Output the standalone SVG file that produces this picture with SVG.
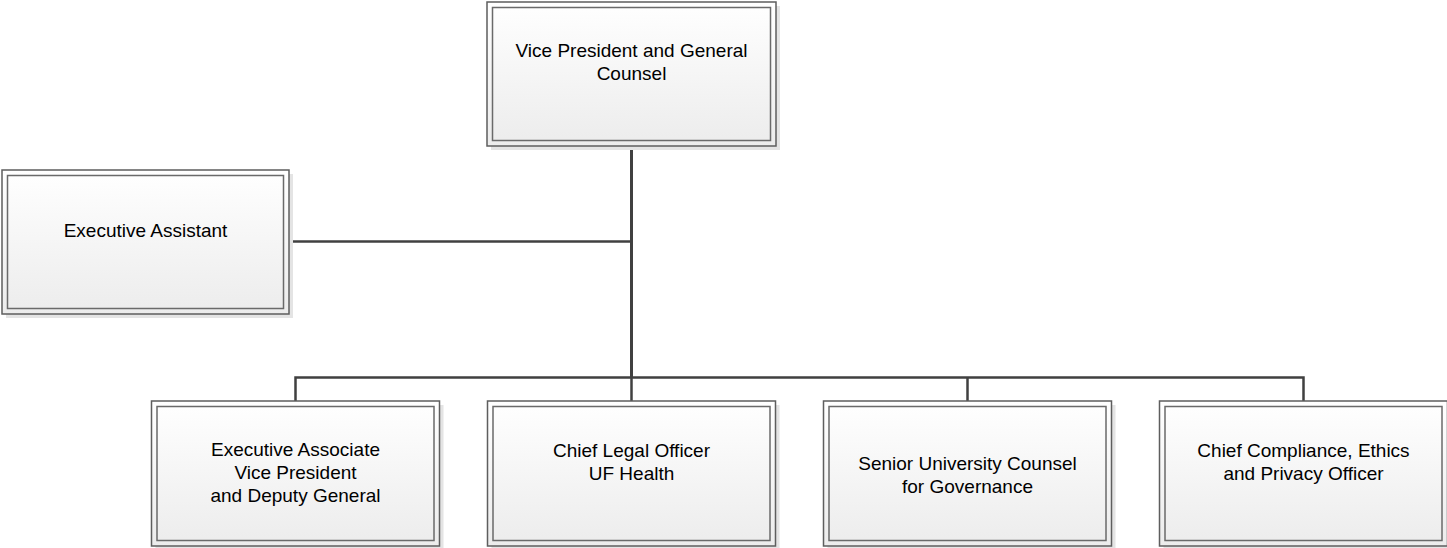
<svg xmlns="http://www.w3.org/2000/svg" width="1447" height="548" viewBox="0 0 1447 548">
<defs>
<linearGradient id="g" x1="0" y1="0" x2="0" y2="1">
<stop offset="0" stop-color="#ffffff"/>
<stop offset="1" stop-color="#ececec"/>
</linearGradient>
<style>
.sh{fill:#e4e4e4}
.o{fill:url(#g);stroke:#5e5e5e;stroke-width:1.5}
.i{fill:none;stroke:#6a6a6a;stroke-width:1.5}
.t{font-family:"Liberation Sans",Arial,sans-serif;font-size:19px;fill:#000000;text-anchor:middle}
.c{fill:none;stroke:#404040;stroke-width:2.5}
</style>
</defs>
<rect width="1447" height="548" fill="#ffffff"/>
<g id="connectors">
<path class="c" d="M631.5 146 V378" style="stroke-width:3"/>
<path class="c" d="M289 241.5 H631.5"/>
<path class="c" d="M295.5 401 V377.5 H1303.5 V401"/>
<path class="c" d="M631.5 377.5 V401"/>
<path class="c" d="M967.5 377.5 V401"/>
</g>
<g id="vp">
<rect class="sh" x="491" y="6" width="289" height="144"/>
<rect class="o" x="487" y="2" width="289" height="144"/>
<rect class="i" x="492.5" y="7.5" width="278" height="133"/>
<text class="t" x="631.5" y="57">Vice President and General</text>
<text class="t" x="631.5" y="80">Counsel</text>
</g>
<g id="ea">
<rect class="sh" x="6" y="174" width="287" height="144"/>
<rect class="o" x="2" y="170" width="287" height="144"/>
<rect class="i" x="7.5" y="175.5" width="276" height="133"/>
<text class="t" x="145.5" y="237">Executive Assistant</text>
</g>
<g id="b1">
<rect class="sh" x="155.5" y="405" width="288" height="145"/>
<rect class="o" x="151.5" y="401" width="288" height="145"/>
<rect class="i" x="157" y="406.5" width="277" height="134"/>
<text class="t" x="295.5" y="456">Executive Associate</text>
<text class="t" x="295.5" y="479">Vice President</text>
<text class="t" x="295.5" y="502">and Deputy General</text>
</g>
<g id="b2">
<rect class="sh" x="491.5" y="405" width="288" height="145"/>
<rect class="o" x="487.5" y="401" width="288" height="145"/>
<rect class="i" x="493" y="406.5" width="277" height="134"/>
<text class="t" x="631.5" y="457">Chief Legal Officer</text>
<text class="t" x="631.5" y="480">UF Health</text>
</g>
<g id="b3">
<rect class="sh" x="827.5" y="405" width="288" height="145"/>
<rect class="o" x="823.5" y="401" width="288" height="145"/>
<rect class="i" x="829" y="406.5" width="277" height="134"/>
<text class="t" x="967.5" y="470">Senior University Counsel</text>
<text class="t" x="967.5" y="493">for Governance</text>
</g>
<g id="b4">
<rect class="sh" x="1163.5" y="405" width="288" height="145"/>
<rect class="o" x="1159.5" y="401" width="288" height="145"/>
<rect class="i" x="1165" y="406.5" width="277" height="134"/>
<text class="t" x="1303.5" y="457">Chief Compliance, Ethics</text>
<text class="t" x="1303.5" y="480">and Privacy Officer</text>
</g>
</svg>
